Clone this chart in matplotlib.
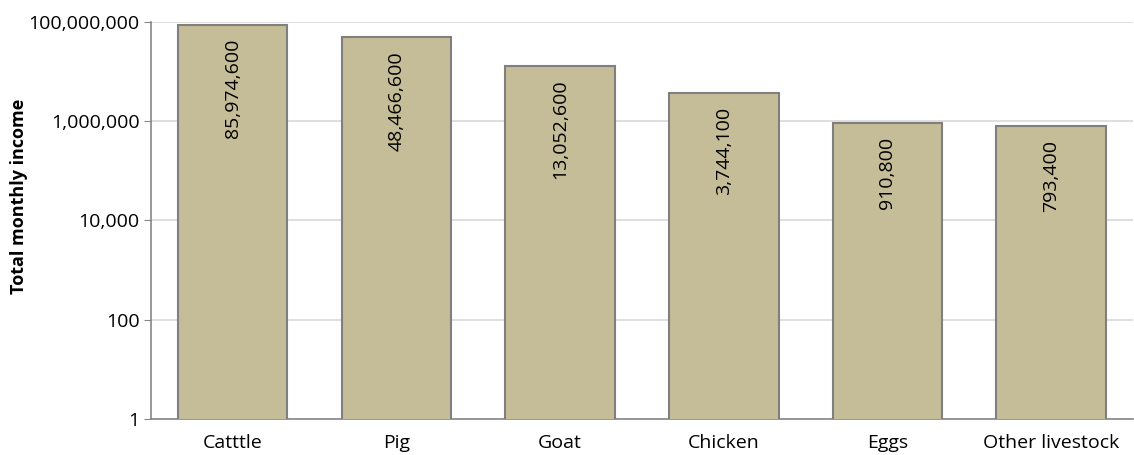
import matplotlib.pyplot as plt
from matplotlib.ticker import FuncFormatter, FixedLocator, NullLocator

categories = ["Catttle", "Pig", "Goat", "Chicken", "Eggs", "Other livestock"]
income = [85974600, 48466600, 13052600, 3744100, 910800, 793400]
y_ticks = [1, 100, 10000, 1000000, 100000000]

plt.rcParams["font.family"] = ["Open Sans", "DejaVu Sans"]

fig = plt.figure(figsize=(11.34, 4.55), dpi=100)
ax = fig.add_axes([0.133, 0.079, 0.866, 0.873])

x = range(len(categories))
ax.bar(x, income, width=0.67, color="#C4BD97", edgecolor="#7F7F7F",
       linewidth=1.5, zorder=3)

for xi, val in zip(x, income):
    ax.annotate(f"{val:,}", xy=(xi, val), xytext=(0, -10),
                textcoords="offset points", rotation=90,
                ha="center", va="top", fontsize=14, color="black", zorder=4)

ax.set_yscale("log")
ax.set_ylim(1, 1e8)
ax.set_xlim(-0.5, len(categories) - 0.5)
ax.yaxis.set_major_locator(FixedLocator(y_ticks))
ax.yaxis.set_minor_locator(NullLocator())
ax.yaxis.set_major_formatter(FuncFormatter(lambda v, _: f"{int(round(v)):,}"))
ax.grid(axis="y", color="#D9D9D9", linewidth=1.2, zorder=0)

ax.set_xticks(list(x))
ax.set_xticklabels(categories, fontsize=14)
ax.tick_params(axis="x", length=0, pad=11)
ax.tick_params(axis="y", labelsize=14, length=5, color="#868686", pad=3)

for side in ("top", "right"):
    ax.spines[side].set_visible(False)
for side in ("left", "bottom"):
    ax.spines[side].set_color("#868686")
    ax.spines[side].set_linewidth(1.2)

ax.set_ylabel("Total monthly income", fontsize=13, fontweight="bold")
ax.yaxis.set_label_coords(-0.125, 0.56)

fig.savefig("out.png", dpi=100)
